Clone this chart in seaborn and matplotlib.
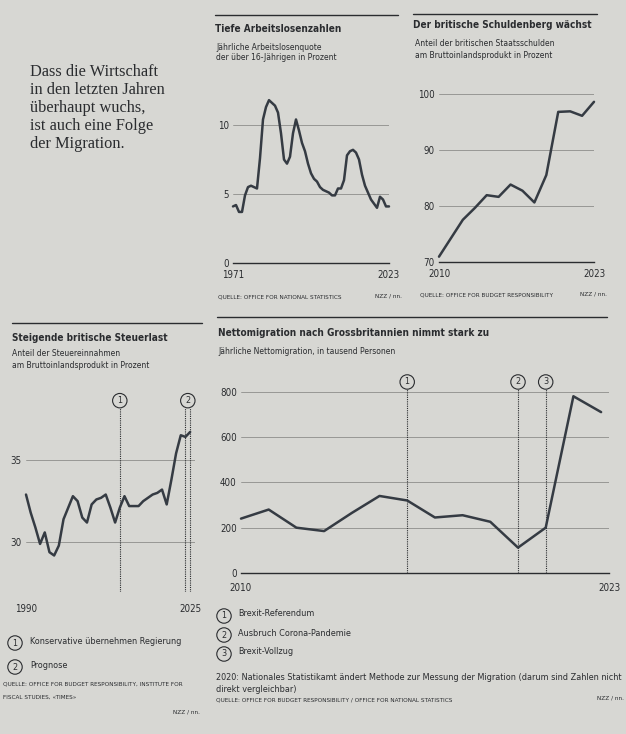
import matplotlib
matplotlib.use("Agg")
import matplotlib.pyplot as plt
from matplotlib import font_manager
import numpy as np
import pandas as pd
import seaborn as sns

jahre_arbeitslos = list(range(1971, 2024))
arbeitslos = [4.1, 4.2, 3.7, 3.7, 4.9, 5.5, 5.6, 5.5, 5.4,
              7.6, 10.4, 11.3, 11.8, 11.6, 11.4, 10.9, 9.4, 7.5, 7.2,
              7.7, 9.4, 10.4, 9.6, 8.7, 8.1, 7.2, 6.5, 6.1, 5.9,
              5.5, 5.3, 5.2, 5.1, 4.9, 4.9, 5.4, 5.4, 6.0, 7.8,
              8.1, 8.2, 8.0, 7.5, 6.4, 5.6, 5.1, 4.6, 4.3, 4.0,
              4.8, 4.6, 4.1, 4.1]

jahre_schulden = list(range(2010, 2024))
schulden = [70.9, 74.2, 77.5, 79.6, 81.9, 81.6, 83.8, 82.7, 80.6, 85.5,
            96.8, 96.9, 96.1, 98.6]

jahre_steuer = list(range(1990, 2026))
steuer = [32.9, 31.8, 30.9, 29.9, 30.6, 29.4, 29.2, 29.8, 31.4, 32.1,
          32.8, 32.5, 31.5, 31.2, 32.3, 32.6, 32.7, 32.9, 32.1, 31.2,
          32.1, 32.8, 32.2, 32.2, 32.2, 32.5, 32.7, 32.9, 33.0, 33.2,
          32.3, 33.8, 35.4, 36.5, 36.4, 36.7]

jahre_migration = list(range(2010, 2024))
migration = [240, 280, 200, 185, 265, 340, 320, 245, 255, 226, 112, 200, 780, 710]

steuer_marken = [2010, 2024, 2025]
migration_marken = [2016, 2020, 2021]
migration_marken_nr = ["1", "2", "3"]

legende_steuer = ["Konservative übernehmen Regierung", "Prognose"]
legende_migration = ["Brexit-Referendum", "Ausbruch Corona-Pandemie", "Brexit-Vollzug"]

sns.set_theme(style="white")

# schmale Schrift suchen, sonst Liberation Sans
fonts = font_manager.fontManager.ttflist
namen = {f.name for f in fonts}
stretch = "normal"
if "Liberation Sans Narrow" in namen:
    sans = "Liberation Sans Narrow"
elif any(f.name == "DejaVu Sans" and f.stretch == "condensed" for f in fonts):
    sans, stretch = "DejaVu Sans", "condensed"
elif "Liberation Sans" in namen:
    sans = "Liberation Sans"
else:
    sans = "DejaVu Sans"
serif = "Liberation Serif" if "Liberation Serif" in namen else "DejaVu Serif"
plt.rcParams["font.family"] = [sans, "DejaVu Sans"]
plt.rcParams["font.stretch"] = stretch

papier = "#d7d7d3"
tinte = "#2a2c2f"
linie = "#353b43"
gitter = "#8e8e8b"

T_TITEL = 7.2
T_UNTER = 6.1
T_LEG = 6.5
T_QUELLE = 4.6

W, H = 626, 734
fig = plt.figure(figsize=(W / 100, H / 100), dpi=100, facecolor=papier)


def px_axes(l, t, r, b):
    ax = fig.add_axes([l / W, 1 - b / H, (r - l) / W, (b - t) / H])
    ax.set_facecolor("none")
    return ax


def ftext(x, y, s, **kw):
    kw.setdefault("color", tinte)
    kw.setdefault("va", "center")
    kw.setdefault("fontstretch", stretch)
    fig.text(x / W, 1 - y / H, s, **kw)


def rule(x0, x1, y):
    fig.add_artist(plt.Line2D([x0 / W, x1 / W], [1 - y / H] * 2, color=tinte, lw=1.0))


def style(ax, yticks, xticks, xlabels, baseline=True, pad_x=5):
    sns.despine(ax=ax, left=True, right=True, top=True, bottom=not baseline)
    ax.set_yticks(yticks)
    ax.set_xticks(xticks, xlabels)
    ax.yaxis.grid(True, color=gitter, lw=0.6)
    ax.xaxis.grid(False)
    ax.set_axisbelow(True)
    ax.tick_params(axis="y", length=0, pad=3, labelsize=7, labelcolor=tinte)
    ax.tick_params(axis="x", length=3 if baseline else 0, direction="in", width=0.8,
                   pad=pad_x, labelsize=7, labelcolor=tinte, color=tinte)
    for t in ax.get_xticklabels() + ax.get_yticklabels():
        t.set_fontstretch(stretch)
    ax.set_xlabel("")
    ax.set_ylabel("")
    if baseline:
        ax.spines["bottom"].set_color(tinte)
        ax.spines["bottom"].set_linewidth(1.0)


def kreis(ax, x, y, s):
    ax.text(x, y, s, ha="center", va="center", fontsize=6.5, color=tinte, clip_on=False,
            fontstretch=stretch,
            bbox=dict(boxstyle="circle,pad=0.3", fc="none", ec=tinte, lw=0.8))


def fkreis(x, y, s):
    fig.text(x / W, 1 - y / H, s, ha="center", va="center", fontsize=6.5, color=tinte,
             fontstretch=stretch,
             bbox=dict(boxstyle="circle,pad=0.3", fc="none", ec=tinte, lw=0.8))


def zeile(ax, x, y):
    sns.lineplot(x=x, y=y, ax=ax, color=linie, lw=1.8, clip_on=False,
                 solid_joinstyle="round", solid_capstyle="round")


# ---- Zitat ----
for i, s in enumerate(["Dass die Wirtschaft", "in den letzten Jahren", "überhaupt wuchs,",
                       "ist auch eine Folge", "der Migration."]):
    ftext(30, 72 + i * 18, s, family=serif, fontsize=11.8, fontstretch="normal")

# ---- Arbeitslosigkeit ----
rule(215, 398, 15)
ftext(215, 29, "Tiefe Arbeitslosenzahlen", fontsize=T_TITEL, weight="bold")
ftext(216, 47, "Jährliche Arbeitslosenquote", fontsize=T_UNTER)
ftext(216, 58, "der über 16-Jährigen in Prozent", fontsize=T_UNTER)
ax1 = px_axes(233, 263 - 13 * 13.8, 389, 263)
zeile(ax1, jahre_arbeitslos, arbeitslos)
ax1.set_xlim(1971, 2023)
ax1.set_ylim(0, 13)
style(ax1, [0, 5, 10], [1971, 2023], ["1971", "2023"])
ftext(218, 297, "QUELLE: OFFICE FOR NATIONAL STATISTICS", fontsize=T_QUELLE)
ftext(402, 296, "NZZ / nn.", fontsize=T_QUELLE, ha="right")

# ---- Schulden ----
rule(413, 597, 14)
ftext(413, 25, "Der britische Schuldenberg wächst", fontsize=T_TITEL, weight="bold")
ftext(415, 43, "Anteil der britischen Staatsschulden", fontsize=T_UNTER)
ftext(415, 55, "am Bruttoinlandsprodukt in Prozent", fontsize=T_UNTER)
ax2 = px_axes(439, 261.7 - 32 * 5.59, 594, 261.7)
zeile(ax2, jahre_schulden, schulden)
ax2.set_xlim(2010, 2023)
ax2.set_ylim(70, 102)
style(ax2, [70, 80, 90, 100], [2010, 2023], ["2010", "2023"])
ftext(420, 295, "QUELLE: OFFICE FOR BUDGET RESPONSIBILITY", fontsize=T_QUELLE)
ftext(607, 294, "NZZ / nn.", fontsize=T_QUELLE, ha="right")

# ---- Steuerlast ----
rule(12, 202, 323)
ftext(12, 338, "Steigende britische Steuerlast", fontsize=T_TITEL, weight="bold")
ftext(12, 353, "Anteil der Steuereinnahmen", fontsize=T_UNTER)
ftext(12, 366, "am Bruttoinlandsprodukt in Prozent", fontsize=T_UNTER)
ax3 = px_axes(26, 542.3 - 9.5 * 16.47, 26 + 36 * 4.69, 542.3 + 3 * 16.47)
ax3.vlines(steuer_marken, 27, 38.15, colors=tinte, lw=0.8, linestyles=(0, (1, 1)))
zeile(ax3, jahre_steuer, steuer)
ax3.set_xlim(1990, 2026)
ax3.set_ylim(27, 39.5)
style(ax3, [30, 35], [1990, 2025], ["1990", "2025"], baseline=False, pad_x=9)
kreis(ax3, steuer_marken[0], 38.6, "1")
kreis(ax3, np.mean(steuer_marken[1:]), 38.6, "2")
for i, s in enumerate(legende_steuer):
    fkreis(15, 643 + i * 24, str(i + 1))
    ftext(30, 642 + i * 24, s, fontsize=T_LEG)
ftext(3, 684, "QUELLE: OFFICE FOR BUDGET RESPONSIBILITY, INSTITUTE FOR", fontsize=T_QUELLE)
ftext(3, 697, "FISCAL STUDIES, «TIMES»", fontsize=T_QUELLE)
ftext(200, 712, "NZZ / nn.", fontsize=T_QUELLE, ha="right")

# ---- Migration ----
rule(217, 607, 317)
ftext(218, 333, "Nettomigration nach Grossbritannien nimmt stark zu", fontsize=T_TITEL,
      weight="bold")
ftext(218, 351, "Jährliche Nettomigration, in tausend Personen", fontsize=T_UNTER)
ax4 = px_axes(241, 573 - 870 * 0.2266, 241 + 13.3 * 27.7, 573)
ax4.vlines(migration_marken, 0, 812, colors=tinte, lw=0.8, linestyles=(0, (1, 1)))
zeile(ax4, jahre_migration, migration)
ax4.set_xlim(2010, 2023.3)
ax4.set_ylim(0, 870)
style(ax4, [0, 200, 400, 600, 800], [2010, 2023.3], ["2010", "2023"], pad_x=7)
for x, s in zip(migration_marken, migration_marken_nr):
    kreis(ax4, x, 843, s)
for i, s in enumerate(legende_migration):
    fkreis(224, 616 + i * 19, str(i + 1))
    ftext(238, 614 + i * 19, s, fontsize=T_LEG)
ftext(216, 677, "2020: Nationales Statistikamt ändert Methode zur Messung der Migration "
                "(darum sind Zahlen nicht", fontsize=T_LEG)
ftext(216, 690, "direkt vergleichbar)", fontsize=T_LEG)
ftext(216, 700, "QUELLE: OFFICE FOR BUDGET RESPONSIBILITY / OFFICE FOR NATIONAL STATISTICS",
      fontsize=T_QUELLE)
ftext(624, 698, "NZZ / nn.", fontsize=T_QUELLE, ha="right")

fig.savefig("out.png", dpi=100, facecolor=papier)
